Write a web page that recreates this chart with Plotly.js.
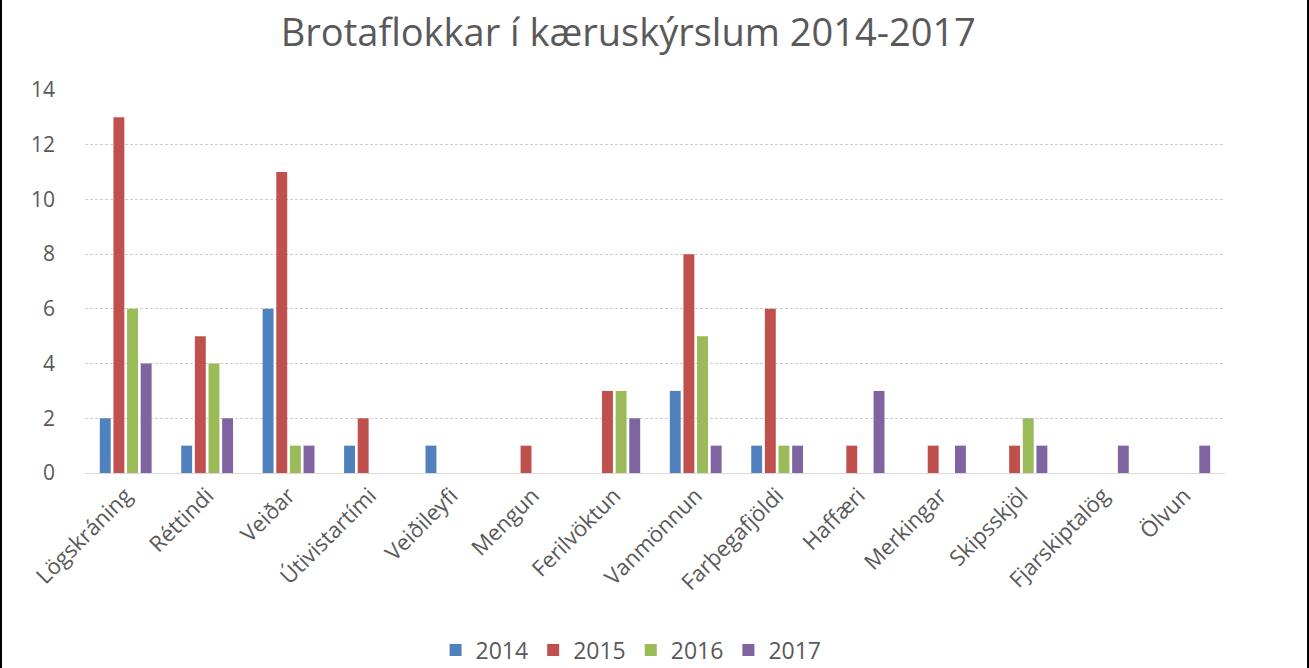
<!DOCTYPE html>
<html>
<head>
<meta charset="utf-8">
<script src="https://cdn.plot.ly/plotly-3.0.1.min.js"></script>
<style>
html,body{margin:0;padding:0;background:#fff;}
#wrap{position:relative;width:1309px;height:668px;overflow:hidden;}
#chart{width:1309px;height:668px;}
.bl{position:absolute;top:0;left:0;width:2px;height:668px;background:#000;}
.br{position:absolute;top:0;right:0;width:2px;height:668px;background:#000;}
</style>
</head>
<body>
<div id="wrap"><div id="chart"></div><div class="bl"></div><div class="br"></div></div>
<script>
const categories = ["Lögskráning","Réttindi","Veiðar","Útivistartími","Veiðileyfi","Mengun","Ferilvöktun","Vanmönnun","Farþegafjöldi","Haffæri","Merkingar","Skipsskjöl","Fjarskiptalög","Ölvun"];
const v2014 = [2,1,6,1,1,0,0,3,1,0,0,0,0,0];
const v2015 = [13,5,11,2,0,1,3,8,6,1,1,1,0,0];
const v2016 = [6,4,1,0,0,0,3,5,1,0,0,2,0,0];
const v2017 = [4,2,1,0,0,0,2,1,1,3,1,1,1,1];
const seriesNames = ["2014","2015","2016","2017"];
const colors = ["#4F81BD","#C0504D","#9BBB59","#8064A2"];

const vals = [v2014,v2015,v2016,v2017];
const traces = vals.map((v,i)=>({
  type:'bar', x:categories, y:v, name:seriesNames[i],
  marker:{color:colors[i], line:{width:0}},
  hoverinfo:'x+y+name'
}));

const font = "'Open Sans', sans-serif";
const layout = {
  width:1309, height:668,
  margin:{l:85, r:84, t:90, b:195, autoexpand:false},
  paper_bgcolor:'#fff', plot_bgcolor:'#fff',
  barmode:'group', bargap:0.33, bargroupgap:0.2,
  title:{text:'Brotaflokkar í kæruskýrslum 2014-2017', x:0.48, xanchor:'center', y:0.951, yanchor:'middle',
    font:{family:font, size:38, color:'#595959'}},
  font:{family:font, color:'#595959'},
  xaxis:{type:'category', tickangle:-45, tickfont:{size:22, color:'#595959'},
    showgrid:false, zeroline:false, showline:true, linecolor:'#d9d9d9', linewidth:1, ticks:'', automargin:false},
  yaxis:{range:[0,14], dtick:2, tickfont:{size:21, color:'#595959'}, showgrid:true,
    gridcolor:'#cfcfcf', griddash:'3px,2px', gridwidth:1, zeroline:false, showline:false, ticks:'',
    ticklabelstandoff:29, automargin:false},
  legend:{orientation:'h', x:0.479, xanchor:'center', y:-0.462, yanchor:'middle',
    font:{size:23, color:'#595959'}, itemwidth:30, traceorder:'normal'},
  showlegend:true
};
Plotly.newPlot('chart', traces, layout, {displayModeBar:false, staticPlot:true});
</script>
</body>
</html>
